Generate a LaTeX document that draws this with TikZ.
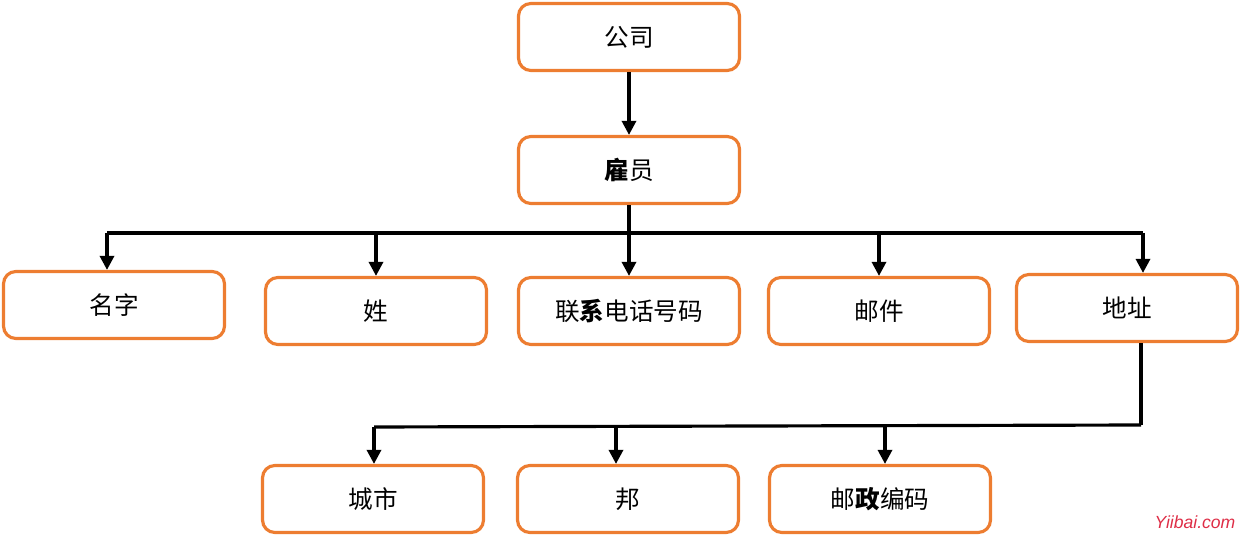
\documentclass[tikz,border=0pt]{standalone}
\usepackage{fontspec}
\setmainfont{Noto Sans CJK SC}
\newfontfamily\wmfont{Liberation Sans}
\usetikzlibrary{arrows.meta}

\definecolor{boxorange}{RGB}{237,125,49}
\definecolor{wmred}{RGB}{222,45,70}

\tikzset{
  entity/.style={draw=boxorange, line width=1.8pt, rounded corners=7pt, fill=white,
    minimum width=4.42cm, minimum height=1.34cm, inner sep=0pt,
    font=\fontsize{14}{16}\selectfont},
  link/.style={line width=1.8pt, black},
  arr/.style={link, -{Triangle[width=8pt,length=8pt]}}
}

\begin{document}
\begin{tikzpicture}[x=0.02cm, y=-0.02cm]

\useasboundingbox (0,0) rectangle (1241,536);

% Top levels
\node[entity] (company) at (629,37) {公司};
\node[entity] (emp) at (629,170) {\textbf{雇}员};

% Attributes of the employee
\node[entity] (name) at (114,305) {名字};
\node[entity] (surname) at (376,311) {姓};
\node[entity] (phone) at (629,311) {联\textbf{系}电话号码};
\node[entity] (mail) at (879,311) {邮件};
\node[entity] (addr) at (1127,308) {地址};

% Parts of the address
\node[entity] (city) at (373,499) {城市};
\node[entity] (state) at (628,499) {邦};
\node[entity] (zip) at (880,499) {邮\textbf{政}编码};

% Bus lines
\coordinate (busL) at (107,233);
\coordinate (busR) at (1143,233);
\coordinate (addrL) at (374,427);
\coordinate (addrR) at (1141,425);
\coordinate (stateT) at (616,426);
\coordinate (zipT) at (885,426);

% Arrows (company to employee)
\draw[arr] (company) -- (emp);

% Arrows (employee to attributes)
\draw[link] (emp.south) -- (emp.south |- busL);
\draw[link] (busL) -- (busR);
\draw[arr] (busL) -- (busL |- name.north);
\draw[arr] (surname.north |- busL) -- (surname.north);
\draw[arr] (emp.south) -- (phone.north);
\draw[arr] (mail.north |- busL) -- (mail.north);
\draw[arr] (busR) -- (busR |- addr.north);

% Arrows (address to parts)
\draw[link] (addr.south -| addrR) -- (addrR);
\draw[link] (addrR) -- (addrL);
\draw[arr] (addrL) -- (addrL |- city.north);
\draw[arr] (stateT) -- (stateT |- state.north);
\draw[arr] (zipT) -- (zipT |- zip.north);

% Watermark
\node[text=wmred, font=\wmfont\itshape\fontsize{10}{12}\selectfont] (mark) at (1195,522) {Yiibai.com};

\end{tikzpicture}
\end{document}
